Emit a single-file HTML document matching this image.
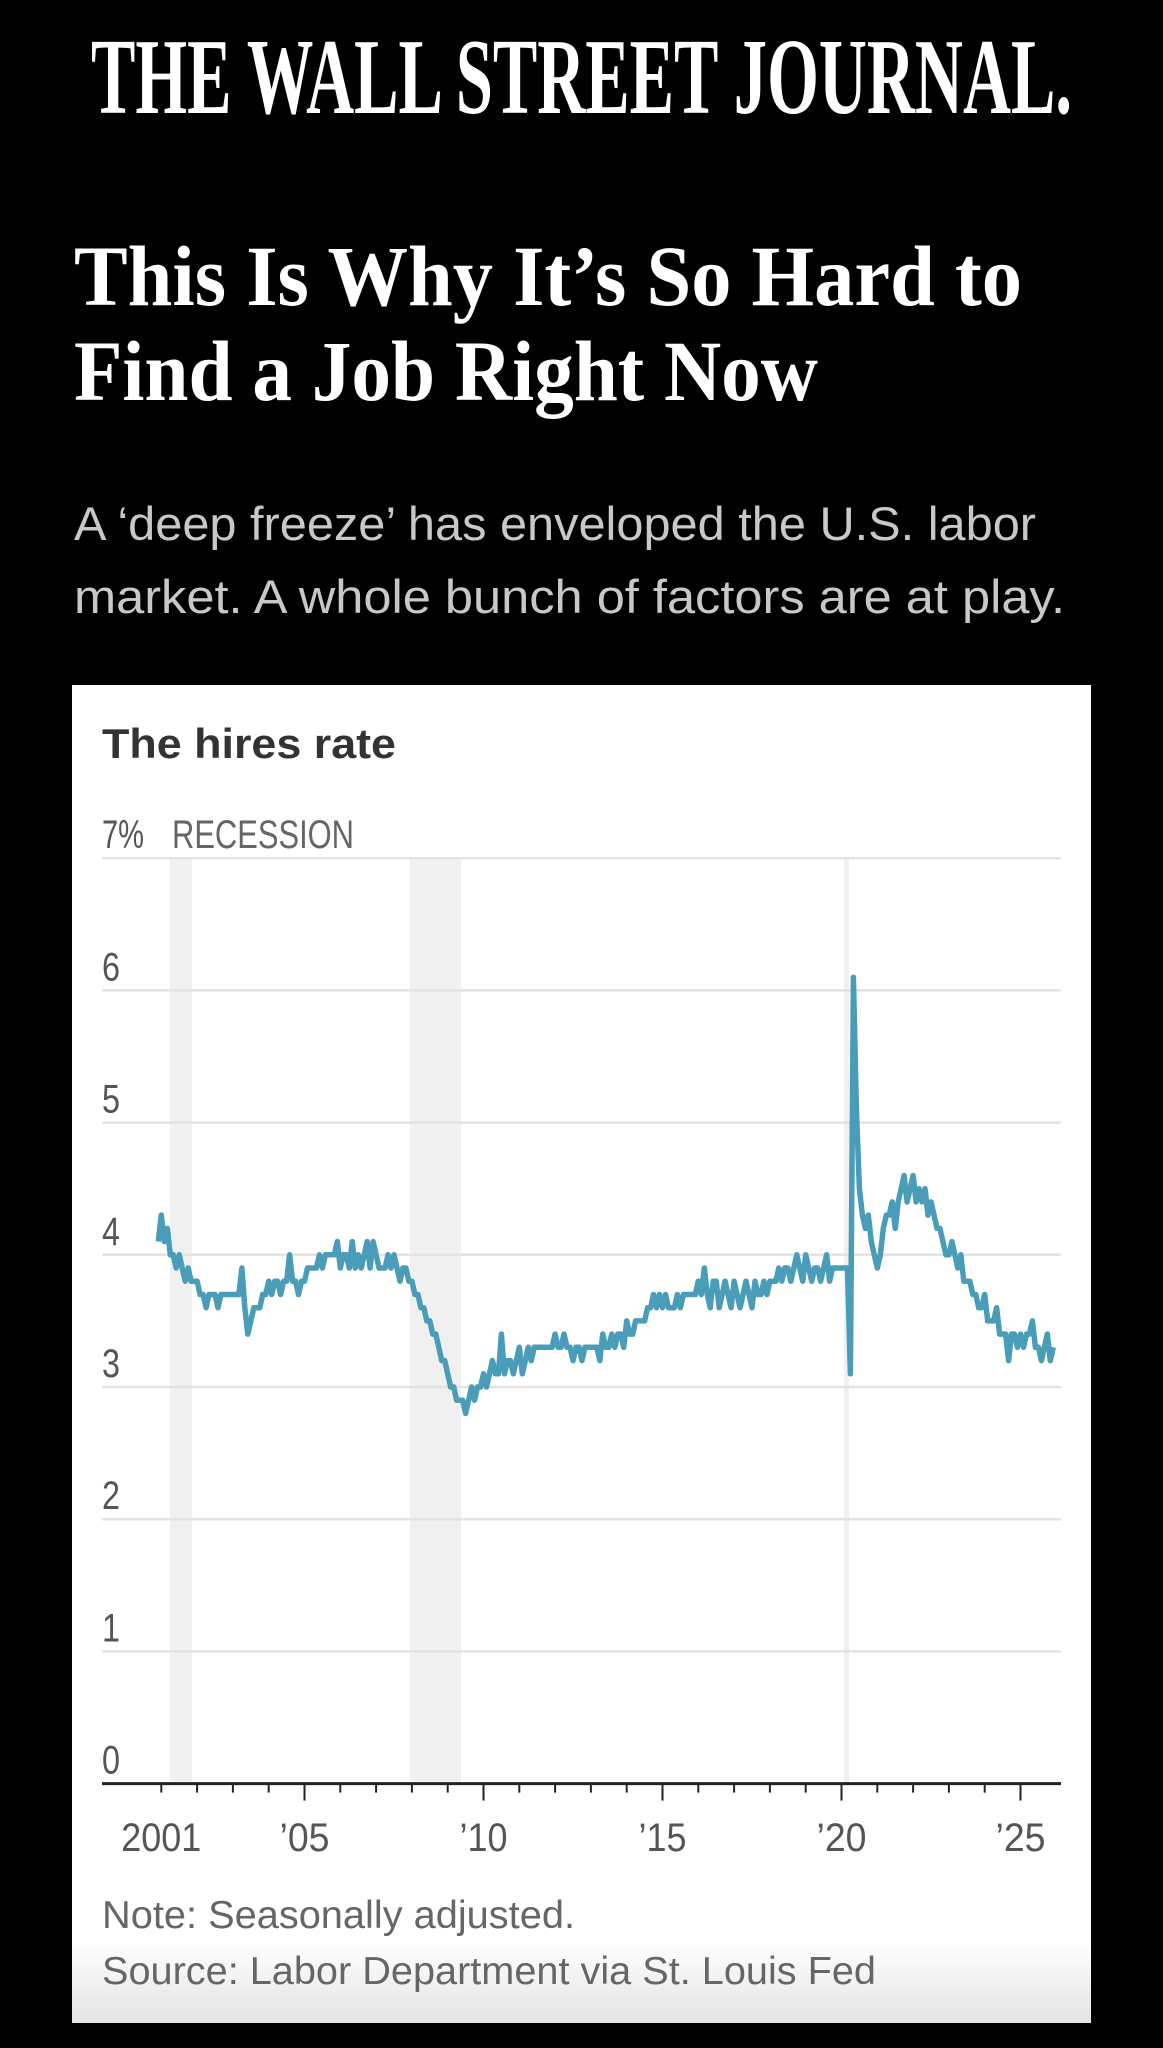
<!DOCTYPE html>
<html><head><meta charset="utf-8"><style>
html,body{margin:0;padding:0;background:#000;width:1163px;height:2048px;overflow:hidden}
svg{display:block}
</style></head><body>
<svg id="s" width="1163" height="2048" viewBox="0 0 1163 2048" xmlns="http://www.w3.org/2000/svg">
<defs>
<linearGradient id="g" x1="0" y1="0" x2="0" y2="1">
<stop offset="0" stop-color="#fff"/><stop offset="1" stop-color="#e4e4e4"/>
</linearGradient>
</defs>
<rect width="1163" height="2048" fill="#000"/>
<text x="91" y="113" font-family="Liberation Serif, serif" font-weight="bold" font-size="108" fill="#fff" textLength="981" lengthAdjust="spacingAndGlyphs">THE WALL STREET JOURNAL.</text>
<text x="74" y="305" font-family="Liberation Serif, serif" font-weight="bold" font-size="86" fill="#fff" textLength="948" lengthAdjust="spacingAndGlyphs">This Is Why It’s So Hard to</text>
<text x="74" y="400" font-family="Liberation Serif, serif" font-weight="bold" font-size="86" fill="#fff" textLength="744" lengthAdjust="spacingAndGlyphs">Find a Job Right Now</text>
<text x="74" y="540" font-family="Liberation Sans, sans-serif" font-size="47" fill="#c8c8c8" textLength="962" lengthAdjust="spacingAndGlyphs">A ‘deep freeze’ has enveloped the U.S. labor</text>
<text x="74" y="613" font-family="Liberation Sans, sans-serif" font-size="47" fill="#c8c8c8" textLength="991" lengthAdjust="spacingAndGlyphs">market. A whole bunch of factors are at play.</text>
<rect x="72" y="685" width="1019" height="1338" fill="#fff"/>
<rect x="72" y="1940" width="1019" height="83" fill="url(#g)"/>
<text x="102" y="758" font-family="Liberation Sans, sans-serif" font-weight="bold" font-size="42" fill="#333" textLength="294" lengthAdjust="spacingAndGlyphs">The hires rate</text>
<g fill="#f0f0f0">
<rect x="170" y="858" width="22" height="925"/>
<rect x="410" y="858" width="51" height="925"/>
<rect x="844" y="858" width="5" height="925"/>
</g>
<g id="grid" stroke="#e3e3e3" stroke-width="2.5"></g>
<g id="ylab" font-family="Liberation Sans Narrow, Liberation Sans, sans-serif" font-size="40" fill="#555"></g>
<text x="172" y="848" font-family="Liberation Sans Narrow, Liberation Sans, sans-serif" font-size="40" fill="#666" textLength="182" lengthAdjust="spacingAndGlyphs">RECESSION</text>
<line x1="102" y1="1783.6" x2="1061" y2="1783.6" stroke="#222" stroke-width="3"/>
<g id="ticks" stroke="#222" stroke-width="2"></g>
<g id="xlab" font-family="Liberation Sans Narrow, Liberation Sans, sans-serif" font-size="40" fill="#555" text-anchor="middle"></g>
<polyline id="line" fill="none" stroke="#4a9db8" stroke-width="5.5" stroke-linejoin="round"/>
<text x="102" y="1928" font-family="Liberation Sans, sans-serif" font-size="39" fill="#666" textLength="473" lengthAdjust="spacingAndGlyphs">Note: Seasonally adjusted.</text>
<text x="102" y="1984" font-family="Liberation Sans, sans-serif" font-size="39" fill="#666" textLength="774" lengthAdjust="spacingAndGlyphs">Source: Labor Department via St. Louis Fed</text>
</svg>
<script>
var NS="http://www.w3.org/2000/svg";
function el(p,t,a,txt){var e=document.createElementNS(NS,t);for(var k in a)e.setAttribute(k,a[k]);if(txt!==undefined)e.textContent=txt;document.getElementById(p).appendChild(e);return e;}
function Y(v){return 1783.6-v*132.2;}
function X(t){return 304.5+(t-2005)*35.8;}
for(var v=1;v<=7;v++){el("grid","line",{x1:102,x2:1061,y1:Y(v),y2:Y(v)});}
for(var v=0;v<=7;v++){var s=v==7?"7%":""+v;var a={x:102,y:Y(v)-10,textLength:(v==7?42:18),lengthAdjust:"spacingAndGlyphs"};el("ylab","text",a,s);}
for(var yr=2001;yr<=2025;yr++){var x=X(yr);var maj=(yr%5==0);el("ticks","line",{x1:x,x2:x,y1:1783.6,y2:1783.6+(maj?17:9)});}
var labs=[[2001,"2001",80],[2005,"’05",50],[2010,"’10",48],[2015,"’15",48],[2020,"’20",50],[2025,"’25",50]];
labs.forEach(function(l){el("xlab","text",{x:X(l[0]),y:1851,textLength:l[2],lengthAdjust:"spacingAndGlyphs"},l[1]);});
var d=[4.1,
4.3,4.1,4.2,4.0,4.0,3.9,4.0,3.9,3.8,3.9,3.8,3.8,
3.8,3.7,3.7,3.6,3.7,3.7,3.7,3.6,3.7,3.7,3.7,3.7,
3.7,3.7,3.7,3.9,3.6,3.4,3.5,3.6,3.6,3.6,3.7,3.7,
3.8,3.7,3.8,3.8,3.7,3.8,3.8,4.0,3.8,3.8,3.7,3.8,
3.8,3.9,3.9,3.9,3.9,4.0,3.9,4.0,4.0,4.0,4.0,4.1,
3.9,4.0,4.0,3.9,4.1,3.9,4.0,3.9,4.0,4.1,3.9,4.1,
4.0,3.9,3.9,3.9,4.0,3.9,4.0,3.9,3.8,3.9,3.9,3.8,
3.8,3.7,3.7,3.6,3.6,3.5,3.5,3.4,3.4,3.3,3.2,3.2,
3.1,3.0,3.0,2.9,2.9,2.9,2.8,2.9,3.0,2.9,3.0,3.0,
3.1,3.0,3.1,3.2,3.1,3.1,3.4,3.1,3.2,3.2,3.1,3.2,
3.3,3.1,3.2,3.3,3.2,3.3,3.3,3.3,3.3,3.3,3.3,3.3,
3.4,3.3,3.3,3.4,3.3,3.3,3.2,3.3,3.3,3.2,3.3,3.3,
3.3,3.3,3.3,3.2,3.4,3.3,3.3,3.4,3.3,3.4,3.4,3.3,
3.5,3.4,3.4,3.5,3.5,3.5,3.5,3.6,3.6,3.7,3.6,3.7,
3.6,3.7,3.6,3.6,3.6,3.7,3.6,3.7,3.7,3.7,3.7,3.7,
3.8,3.7,3.9,3.7,3.6,3.8,3.8,3.6,3.7,3.8,3.7,3.6,
3.8,3.7,3.6,3.7,3.8,3.7,3.6,3.8,3.7,3.7,3.8,3.7,
3.8,3.8,3.8,3.9,3.8,3.9,3.9,3.8,3.9,4.0,3.9,3.8,
4.0,3.9,3.8,3.9,3.9,3.8,3.9,4.0,3.8,3.9,3.9,3.9,
3.9,3.9,3.9,3.1,6.1,5.1,4.5,4.3,4.2,4.3,4.1,4.0,
3.9,4.0,4.2,4.3,4.3,4.4,4.2,4.4,4.5,4.6,4.4,4.5,
4.6,4.4,4.5,4.4,4.5,4.3,4.4,4.3,4.2,4.2,4.1,4.0,
4.0,4.1,4.0,3.9,4.0,3.8,3.8,3.8,3.7,3.7,3.6,3.6,
3.7,3.5,3.5,3.5,3.6,3.4,3.4,3.4,3.2,3.4,3.4,3.3,
3.4,3.3,3.4,3.4,3.5,3.3,3.3,3.2,3.3,3.4,3.2,3.3];
var pts=[];for(var i=0;i<d.length;i++){var t=2000+11/12+i/12;pts.push(X(t).toFixed(1)+","+Y(d[i]).toFixed(1));}
document.getElementById("line").setAttribute("points",pts.join(" "));
</script>
</body></html>
